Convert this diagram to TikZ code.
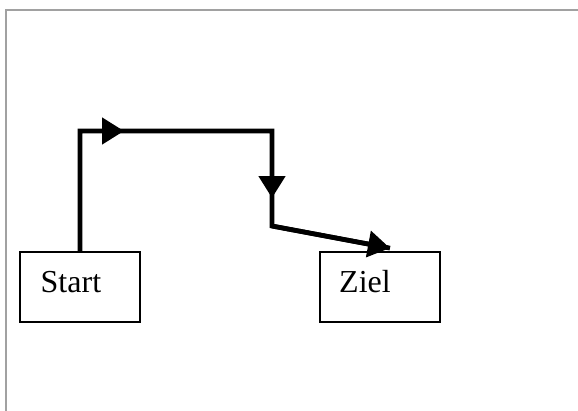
\documentclass[tikz,border=0pt]{standalone}
\usepackage{fontspec}
\setmainfont{Liberation Serif}
\usetikzlibrary{arrows.meta}
\begin{document}
\begin{tikzpicture}[x=1pt,y=-1pt,
  box/.style={draw,line width=1.8pt,rectangle,minimum width=120pt,minimum height=70pt,inner sep=0pt},
  lbl/.style={anchor=base west,inner sep=0pt,font=\fontsize{32}{38}\selectfont},
  conn/.style={line width=4.7pt,miter limit=10},
  tip/.style={-{Triangle[length=22pt,width=26pt]}},
  frame/.style={draw=black!37,line width=1.6pt}]
\useasboundingbox (0,0) rectangle (578,410);
\draw[frame] (6,420) -- (6,10) -- (590,10);
\node[box] (start) at (80,287) {};
\node[box] (ziel) at (380,287) {};
\node[lbl] (starttxt) at (40.5,292.5) {Start};
\node[lbl] (zieltxt) at (339,292.5) {Ziel};
\coordinate (p1) at (80,131);
\coordinate (p2) at (272,131);
\coordinate (p3) at (272,226);
\coordinate (a1) at (124,131);
\coordinate (a2) at (272,198);
\coordinate (zt) at ([xshift=10pt,yshift=3pt]ziel.north);
\draw[conn] (start.north) -- (p1) -- (p2) -- (p3) -- (zt);
\draw[conn,tip] (p1) -- (a1);
\draw[conn,tip] (p2) -- (a2);
\draw[conn,tip] (p3) -- (zt);
\end{tikzpicture}
\end{document}
